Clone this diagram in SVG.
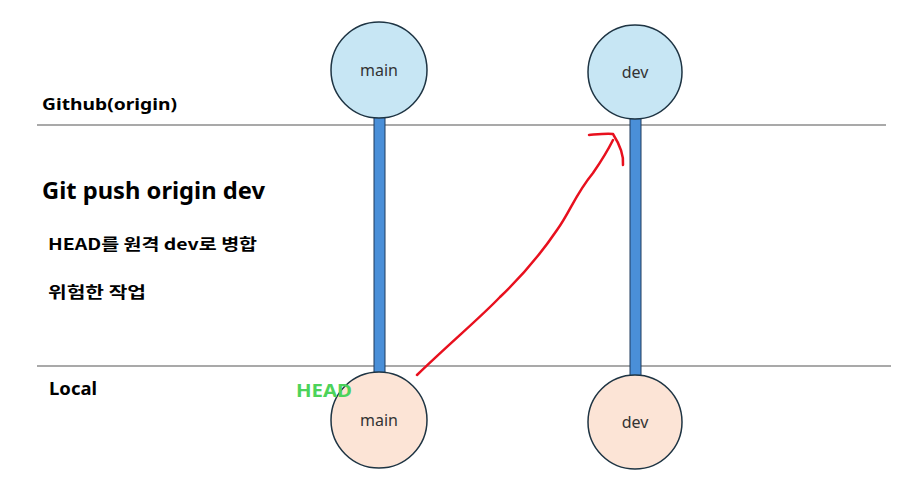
<svg xmlns="http://www.w3.org/2000/svg" width="903" height="483" viewBox="0 0 903 483">
<style>
.lbl{font-family:"Noto Sans","Noto Sans CJK KR",sans-serif;font-weight:bold;fill:#000}
.ko{font-family:"Noto Sans CJK KR","Noto Sans",sans-serif;font-weight:bold;fill:#000}
.remote{fill:#C7E6F4;stroke:#1E3443;stroke-width:1.5}
.local{fill:#FCE4D6;stroke:#1E3443;stroke-width:1.5}
.bar{fill:#4A8FD8;stroke:#1F3A5C;stroke-width:1}
.nt{font-family:"Noto Sans",sans-serif;font-size:16px;fill:#333;text-anchor:middle}
.sep{stroke:#555;stroke-width:1.2}
</style>
<rect width="903" height="483" fill="#fff"/>
<line class="sep" x1="37" y1="125" x2="886" y2="125"/>
<line class="sep" x1="37" y1="366" x2="891" y2="366"/>
<text class="lbl" x="42" y="110" font-size="16.5" textLength="135" lengthAdjust="spacingAndGlyphs">Github(origin)</text>
<text class="lbl" x="42" y="199" font-size="22.5" textLength="223" lengthAdjust="spacingAndGlyphs">Git push origin dev</text>
<text class="ko" x="48" y="250" font-size="15.5" textLength="209" lengthAdjust="spacingAndGlyphs">HEAD를 원격 dev로 병합</text>
<text class="ko" x="48" y="298" font-size="15.5" textLength="98" lengthAdjust="spacingAndGlyphs">위험한 작업</text>
<text class="lbl" x="49" y="395" font-size="17" textLength="48" lengthAdjust="spacingAndGlyphs">Local</text>
<g id="connectors">
<rect class="bar" x="374" y="117" width="11" height="258"/>
<rect class="bar" x="630" y="118" width="11" height="260"/>
<path d="M417,375 C450,343 480,318 500,297 C520,278 540,255 557,230 C570,212 575,195 593,173 C602,160 608,150 613,140" fill="none" stroke="#E8101E" stroke-width="2.5" stroke-linecap="round"/>
<path d="M589,135 C600,134 608,133 613,134 C620,145 624,155 623,165" fill="none" stroke="#E8101E" stroke-width="2.5" stroke-linecap="round"/>
</g>
<g id="node-remote-main">
<circle class="remote" cx="379" cy="70" r="48"/>
<text class="nt" x="379" y="76">main</text>
</g>
<g id="node-remote-dev">
<circle class="remote" cx="635" cy="72" r="47"/>
<text class="nt" x="635" y="78">dev</text>
</g>
<g id="node-local-main">
<circle class="local" cx="379" cy="420" r="48"/>
<text class="nt" x="379" y="426">main</text>
</g>
<g id="node-local-dev">
<circle class="local" cx="635" cy="422" r="47"/>
<text class="nt" x="635" y="428">dev</text>
</g>
<text x="296" y="397" font-family="Noto Sans,sans-serif" font-weight="bold" font-size="18" fill="#4CD35A" textLength="56" lengthAdjust="spacingAndGlyphs">HEAD</text>
</svg>
